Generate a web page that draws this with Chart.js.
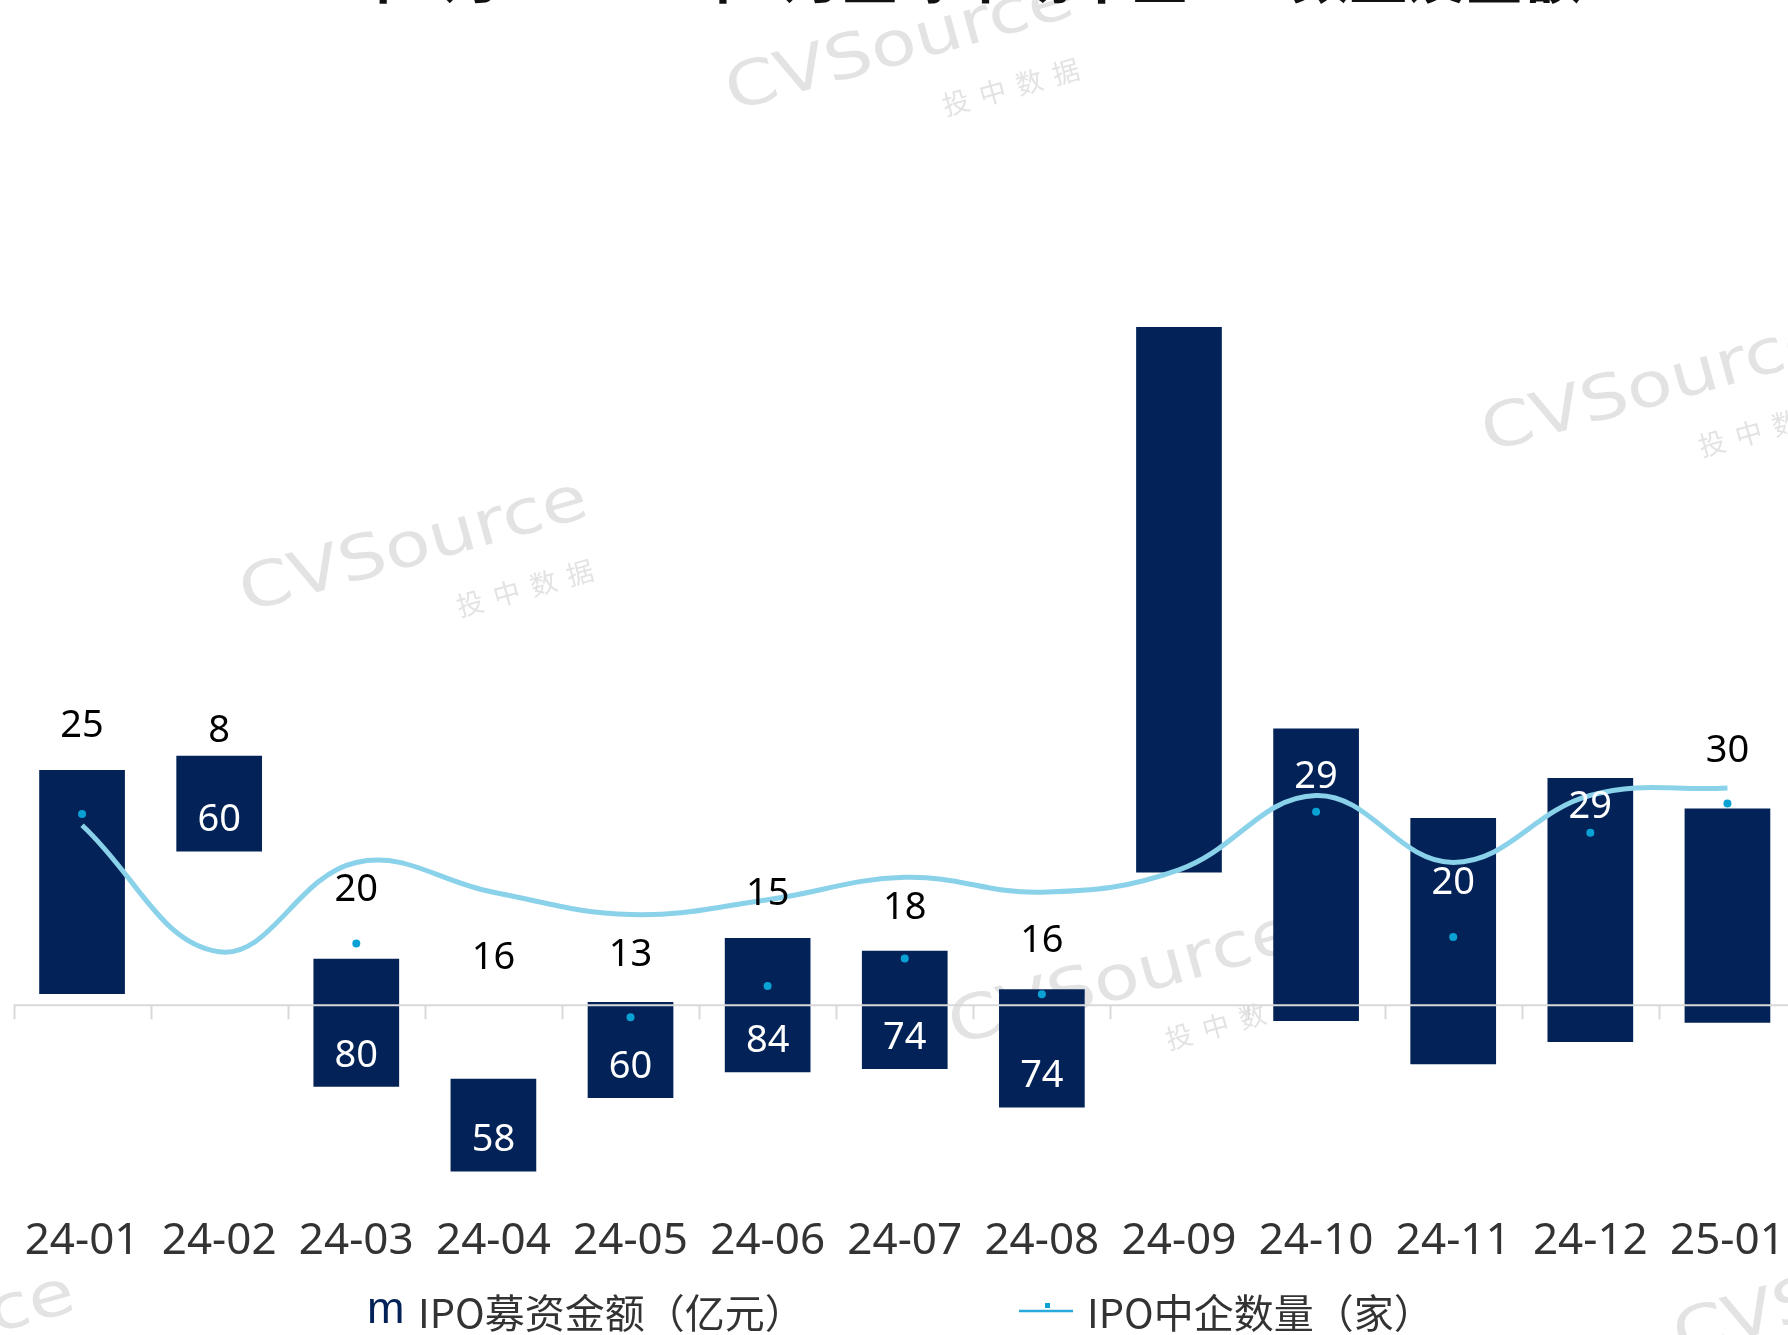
<!DOCTYPE html>
<html>
<head>
<meta charset="utf-8">
<script src="https://cdn.jsdelivr.net/npm/chart.js@4.4.1/dist/chart.umd.min.js"></script>
<style>
  html, body { margin: 0; padding: 0; background: #fff; overflow: hidden; }
  #wrap { position: relative; width: 1800px; height: 1335px; }
</style>
</head>
<body>
<div id="wrap"><canvas id="ipoChart"></canvas></div>
<script>
// month categories
const months = ['24-01', '24-02', '24-03', '24-04', '24-05', '24-06', '24-07',
                '24-08', '24-09', '24-10', '24-11', '24-12', '25-01'];
// IPO募资金额（亿元）: bar length, and where each (floating) bar starts
const raiseAmount = [140, 60, 80, 58, 60, 84, 74, 74, 341, 183, 154, 165, 134];
const barBottom   = [7, 96, -51, -104, -58, -42, -40, -64, 83, -10, -37, -23, -11];
const showAmountLabel = [false, true, true, true, true, true, true, true, false, false, false, false, false];
// IPO中企数量（家）
const ipoCount   = [25, 8, 20, 16, 13, 15, 18, 16, 19, 29, 20, 29, 30];
// stray markers of the count series and where its labels sit (count units)
const countDots    = [26.5, null, 9.1, null, -0.8, 3.4, 7.1, 2.3, null, 26.8, 10.0, 24.0, 27.9];
const countLabelAt = [38.3, 37.6, 16.3, 7.1, 7.5, 15.8, 13.9, 9.4, null, 31.5, 17.2, 27.4, 34.9];

const NAVY = '#032358';
const LINE = '#8ad1ea';
const DOT  = '#0aa2d4';
const TITLE = '2024年1月—2025年1月全球市场中企IPO数量及金额';

function watermark(ctx, x, y) {
    ctx.save();
    ctx.translate(x, y);
    ctx.rotate(-15.6 * Math.PI / 180);
    ctx.fillStyle = '#e3e3e3';
    ctx.textAlign = 'left';
    ctx.textBaseline = 'alphabetic';
    ctx.save();
    ctx.scale(1.2, 1);
    ctx.font = '62px "DejaVu Sans"';
    ctx.fillText('CVSource', 0, 0);
    ctx.restore();
    ctx.font = '27px "Noto Sans CJK SC"';
    ctx.textAlign = 'center';
    ctx.textBaseline = 'middle';
    ['投', '中', '数', '据'].forEach((ch, k) => ctx.fillText(ch, 218 + k * 38, 52));
    ctx.restore();
}

const decorations = {
    id: 'decorations',
    beforeDatasetsDraw(chart) {
        const ctx = chart.ctx;
        [[732, 111], [1488, 452], [246, 612], [955, 1045], [-267, 1406], [1680, 1356]]
            .forEach(p => watermark(ctx, p[0], p[1]));
        // title, clipped at the top edge
        ctx.save();
        ctx.fillStyle = '#111';
        ctx.font = 'bold 58px "Noto Sans CJK SC"';
        ctx.textAlign = 'left';
        ctx.textBaseline = 'alphabetic';
        ctx.fillText(TITLE, 214, -2);
        ctx.restore();
    },
    afterDatasetsDraw(chart) {
        const ctx = chart.ctx;
        const xs = chart.scales.x, ya = chart.scales.y, yc = chart.scales.y2;
        const zero = ya.getPixelForValue(0);
        const catW = xs.width / months.length;

        // category axis line and tick marks
        ctx.save();
        ctx.strokeStyle = '#d9d9d9';
        ctx.lineWidth = 2;
        ctx.beginPath();
        ctx.moveTo(xs.left, zero);
        ctx.lineTo(xs.right, zero);
        for (let k = 0; k <= months.length; k++) {
            const bx = Math.round(xs.left + k * catW) + 0.5;
            ctx.moveTo(bx, zero);
            ctx.lineTo(bx, zero + 14);
        }
        ctx.stroke();

        // value labels
        ctx.textAlign = 'center';
        ctx.textBaseline = 'middle';
        ctx.font = '38px "Noto Sans"';
        months.forEach((m, i) => {
            const cx = xs.getPixelForValue(i);
            if (showAmountLabel[i]) {
                ctx.fillStyle = '#ffffff';
                ctx.fillText(String(raiseAmount[i]), cx, ya.getPixelForValue(barBottom[i]) - 31);
            }
            if (countLabelAt[i] !== null) {
                const ly = yc.getPixelForValue(countLabelAt[i]);
                const top = ya.getPixelForValue(barBottom[i] + raiseAmount[i]);
                const bot = ya.getPixelForValue(barBottom[i]);
                ctx.fillStyle = (ly > top && ly < bot) ? '#ffffff' : '#000000';
                ctx.fillText(String(ipoCount[i]), cx, ly);
            }
        });

        // legend
        const ly = 1313;
        ctx.textAlign = 'left';
        ctx.fillStyle = NAVY;
        ctx.font = '45px "Liberation Sans"';
        ctx.textBaseline = 'alphabetic';
        ctx.fillText('m', 367, 1323);
        ctx.fillStyle = '#333333';
        ctx.font = '40px "Noto Sans CJK SC"';
        ctx.textBaseline = 'middle';
        ctx.fillText('IPO募资金额（亿元）', 418, ly);
        ctx.strokeStyle = '#2aa9dc';
        ctx.lineWidth = 2.5;
        ctx.beginPath();
        ctx.moveTo(1019, ly - 2);
        ctx.lineTo(1073, ly - 2);
        ctx.stroke();
        ctx.fillStyle = DOT;
        ctx.fillRect(1045, ly - 10, 5, 5);
        ctx.fillStyle = '#333333';
        ctx.fillText('IPO中企数量（家）', 1087, ly);
        ctx.restore();
    }
};

new Chart(document.getElementById('ipoChart'), {
    type: 'bar',
    data: {
        labels: months,
        datasets: [
            {
                type: 'line', label: 'dots', data: countDots, yAxisID: 'y2',
                showLine: false, pointRadius: 4, pointBackgroundColor: DOT, pointBorderWidth: 0, order: 0
            },
            {
                type: 'line', label: 'IPO中企数量（家）', data: ipoCount, yAxisID: 'y2',
                borderColor: LINE, borderWidth: 5, tension: 0.4, pointRadius: 0, fill: false, order: 1
            },
            {
                label: 'IPO募资金额（亿元）',
                data: months.map((m, i) => [barBottom[i], barBottom[i] + raiseAmount[i]]),
                yAxisID: 'y',
                backgroundColor: NAVY, borderWidth: 0, borderSkipped: false,
                barPercentage: 0.625, categoryPercentage: 1, order: 2
            }
        ]
    },
    options: {
        responsive: true,
        maintainAspectRatio: false,
        animation: false,
        layout: { padding: { left: 13.5, right: 3, top: 0, bottom: 53 } },
        plugins: { legend: { display: false }, tooltip: { enabled: false } },
        scales: {
            x: {
                grid: { display: false, drawTicks: false },
                border: { display: false },
                ticks: { color: '#333333', font: { family: 'Noto Sans', size: 44 }, padding: 14, maxRotation: 0, autoSkip: false }
            },
            y:  { display: false, min: -122.6, max: 626 },
            y2: { display: false, min: -25.5, max: 135.3 }
        }
    },
    plugins: [decorations]
});
</script>
</body>
</html>
